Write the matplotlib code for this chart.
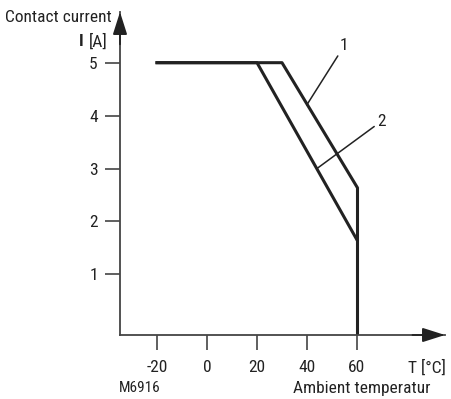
import matplotlib
matplotlib.use('Agg')
import matplotlib.pyplot as plt

# derating curves, contact current vs ambient temperature
temp1 = [-20, 30, 60]
current1 = [5, 5, 2.65]
temp2 = [-20, 20, 60]
current2 = [5, 5, 1.65]
xticks = [-20, 0, 20, 40, 60]
yticks = [1, 2, 3, 4, 5]

plt.rcParams['font.family'] = ['Roboto Condensed', 'DejaVu Sans']
plt.rcParams['font.size'] = 12.5
plt.rcParams['axes.unicode_minus'] = False
col = '#222222'

W, H = 451, 399
fig = plt.figure(figsize=(W / 100, H / 100), dpi=100)
ax = fig.add_axes([120 / W, (H - 335) / H, 325 / W, 323 / H])
xlo, xhi = -34.8, 95.2
ylo, yhi = -0.147, 5.958
ax.set_xlim(xlo, xhi)
ax.set_ylim(ylo, yhi)

for s in ['top', 'right']:
    ax.spines[s].set_visible(False)
for s in ['left', 'bottom']:
    ax.spines[s].set_color('#444444')
    ax.spines[s].set_linewidth(1.3)

ax.set_xticks(xticks)
ax.set_yticks(yticks)
ax.tick_params(direction='out', length=11, width=1.2, color='#444444',
               labelcolor=col, labelsize=12.5)
ax.tick_params(axis='x', pad=7)
ax.tick_params(axis='y', pad=5)

# arrows at the axis ends
ax.annotate('', xy=(1.0, 0), xytext=(0.9, 0), xycoords='axes fraction',
            arrowprops=dict(arrowstyle='-|>,head_length=1.1,head_width=0.35',
                            color=col, lw=1.3, shrinkA=0, shrinkB=0))
ax.annotate('', xy=(0, 1.0), xytext=(0, 0.9), xycoords='axes fraction',
            arrowprops=dict(arrowstyle='-|>,head_length=1.1,head_width=0.35',
                            color=col, lw=1.3, shrinkA=0, shrinkB=0))

ax.plot(temp1, current1, color=col, lw=2.2, solid_joinstyle='round')
ax.plot(temp2, current2, color=col, lw=2.2, solid_joinstyle='round')
ax.vlines(60, ylo, current1[-1], color=col, lw=2.2)

# curve labels with leader lines
ax.annotate('1', xy=(39.9, 4.2), xytext=(53.2, 5.18), fontsize=12.5, color=col,
            ha='left', va='bottom',
            arrowprops=dict(arrowstyle='-', color=col, lw=1.1, shrinkA=0, shrinkB=0))
ax.annotate('2', xy=(44, 3.0), xytext=(68, 3.75), fontsize=12.5, color=col,
            ha='left', va='bottom',
            arrowprops=dict(arrowstyle='-', color=col, lw=1.1, shrinkA=0, shrinkB=0))

def ftext(x, y, s, size=12.5, **kw):
    fig.text(x / W, 1 - y / H, s, color=col, fontsize=size, **kw)

ftext(5, 17, 'Contact current', ha='left', va='center')
ftext(84, 42, 'I', ha='right', va='center', fontweight='bold')
ftext(108, 42, '[A]', ha='right', va='center')
ftext(427, 368, 'T [°C]', ha='center', va='center')
ftext(140, 388, 'M6916', size=11, ha='center', va='center')
ftext(362, 388, 'Ambient temperatur', ha='center', va='center')

fig.savefig('out.png', dpi=100)
